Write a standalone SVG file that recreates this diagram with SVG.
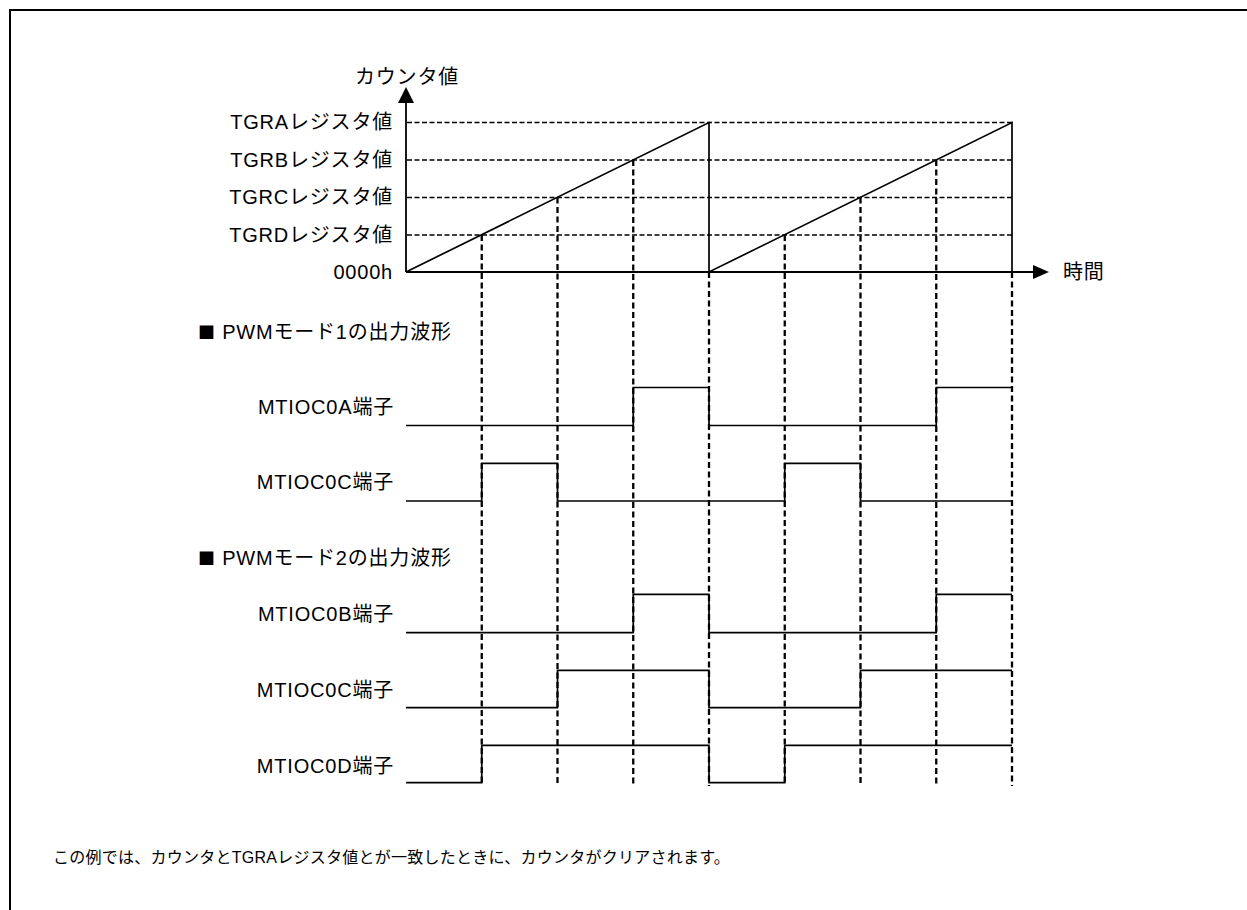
<svg xmlns="http://www.w3.org/2000/svg" width="1247" height="910" viewBox="0 0 1247 910">
<style>
text{font-family:"Liberation Sans","Noto Sans CJK JP",sans-serif;fill:#000}
.lbl{font-size:20px;letter-spacing:0.8px}
.sq{font-family:"Noto Sans CJK JP",sans-serif;font-size:17px}
.r{text-anchor:end}
.note{font-size:16px;letter-spacing:0.25px}
.grid{stroke:#000;stroke-width:1.4;stroke-dasharray:5 2.5;fill:none}
.vd{stroke:#000;stroke-width:2.3;stroke-dasharray:6 3.5;fill:none}
.solid{stroke:#000;stroke-width:1.7;fill:none}
.axis{stroke:#000;stroke-width:1.8;fill:none}
.wave{stroke:#000;stroke-width:1.7;fill:none;stroke-linejoin:miter}
</style>
<rect x="0" y="0" width="1247" height="910" fill="#fff"/>
<rect x="10" y="10" width="1300" height="1000" fill="none" stroke="#000" stroke-width="2"/>

<g id="labels">
<text class="lbl" x="355" y="84">カウンタ値</text>
<text class="lbl r" x="393" y="129">TGRAレジスタ値</text>
<text class="lbl r" x="393" y="167">TGRBレジスタ値</text>
<text class="lbl r" x="393" y="204">TGRCレジスタ値</text>
<text class="lbl r" x="393" y="242">TGRDレジスタ値</text>
<text class="lbl r" x="393" y="279">0000h</text>
<text class="lbl" x="1063" y="279">時間</text>
<text class="lbl" x="198" y="339"><tspan class="sq">■</tspan> PWMモード1の出力波形</text>
<text class="lbl" x="198" y="565"><tspan class="sq">■</tspan> PWMモード2の出力波形</text>
<text class="lbl r" x="394" y="414">MTIOC0A端子</text>
<text class="lbl r" x="394" y="489">MTIOC0C端子</text>
<text class="lbl r" x="394" y="621">MTIOC0B端子</text>
<text class="lbl r" x="394" y="697">MTIOC0C端子</text>
<text class="lbl r" x="394" y="773">MTIOC0D端子</text>
<text class="note" x="53" y="863">この例では、カウンタとTGRAレジスタ値とが一致したときに、カウンタがクリアされます。</text>
</g>

<g id="grid">
<line class="grid" x1="407" y1="122.5" x2="1012" y2="122.5"/>
<line class="grid" x1="407" y1="160" x2="1012" y2="160"/>
<line class="grid" x1="407" y1="197.5" x2="1012" y2="197.5"/>
<line class="grid" x1="407" y1="235" x2="1012" y2="235"/>
</g>

<g id="connectors">
<line class="vd" x1="481.75" y1="235" x2="481.75" y2="786"/>
<line class="vd" x1="557.5" y1="197.5" x2="557.5" y2="786"/>
<line class="vd" x1="633.25" y1="160" x2="633.25" y2="786"/>
<line class="vd" x1="709" y1="272" x2="709" y2="786"/>
<line class="vd" x1="784.75" y1="235" x2="784.75" y2="786"/>
<line class="vd" x1="860.5" y1="197.5" x2="860.5" y2="786"/>
<line class="vd" x1="936.25" y1="160" x2="936.25" y2="786"/>
<line class="vd" x1="1012" y1="272" x2="1012" y2="786"/>
</g>

<g id="counter">
<polyline class="solid" points="406,272 709,122.5 709,272 1012,122.5 1012,272"/>
</g>

<g id="axes">
<line class="axis" x1="406" y1="272" x2="406" y2="100"/>
<polygon points="406,87 398,103 414,103" fill="#000"/>
<line class="axis" x1="406" y1="272" x2="1035" y2="272"/>
<polygon points="1049,272 1033,265 1033,279" fill="#000"/>
</g>

<g id="wave-mtioc0a">
<polyline class="wave" points="406,425.5 633.25,425.5 633.25,387.5 709,387.5 709,425.5 936.25,425.5 936.25,387.5 1012,387.5"/>
</g>
<g id="wave-mtioc0c-1">
<polyline class="wave" points="406,501 481.75,501 481.75,463.3 557.5,463.3 557.5,501 784.75,501 784.75,463.3 860.5,463.3 860.5,501 1012,501"/>
</g>
<g id="wave-mtioc0b">
<polyline class="wave" points="406,632.7 633.25,632.7 633.25,594.3 709,594.3 709,632.7 936.25,632.7 936.25,594.3 1012,594.3"/>
</g>
<g id="wave-mtioc0c-2">
<polyline class="wave" points="406,707.7 557.5,707.7 557.5,670.3 709,670.3 709,707.7 860.5,707.7 860.5,670.3 1012,670.3"/>
</g>
<g id="wave-mtioc0d">
<polyline class="wave" points="406,782.7 481.75,782.7 481.75,745.3 709,745.3 709,782.7 784.75,782.7 784.75,745.3 1012,745.3"/>
</g>
</svg>
